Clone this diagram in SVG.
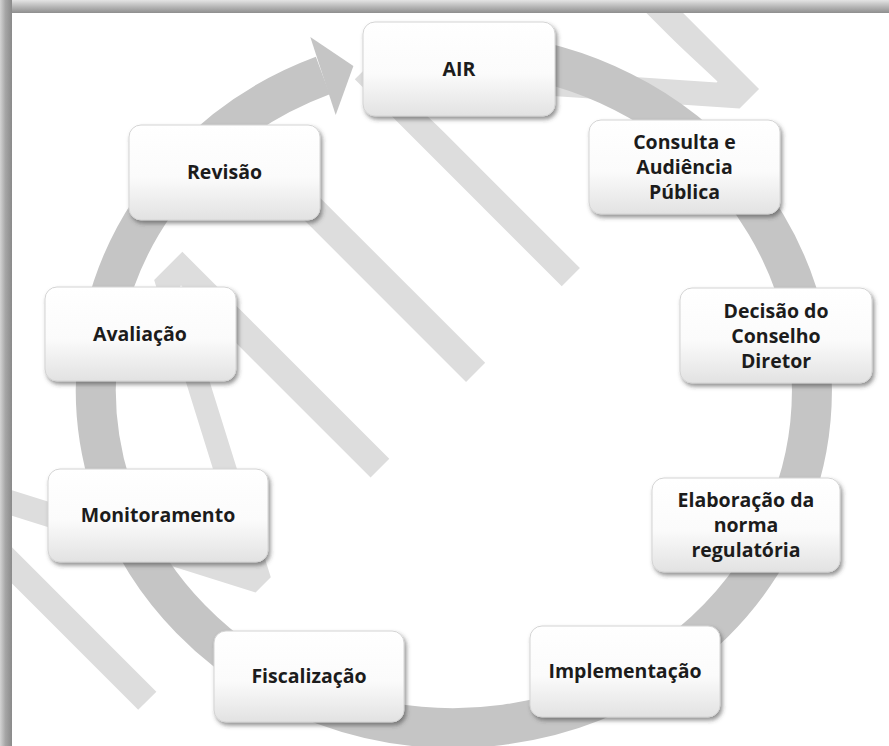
<svg xmlns="http://www.w3.org/2000/svg" width="889" height="746" viewBox="0 0 889 746">
  <defs>
    <linearGradient id="boxFill" x1="0" y1="0" x2="0" y2="1">
      <stop offset="0" stop-color="#ffffff"/>
      <stop offset="0.55" stop-color="#fbfbfb"/>
      <stop offset="1" stop-color="#e2e2e2"/>
    </linearGradient>
    <linearGradient id="topBar" x1="0" y1="0" x2="0" y2="1">
      <stop offset="0" stop-color="#e4e4e4"/>
      <stop offset="0.5" stop-color="#b8b8b8"/>
      <stop offset="1" stop-color="#8e8e8e"/>
    </linearGradient>
    <linearGradient id="leftBar" x1="0" y1="0" x2="1" y2="0">
      <stop offset="0" stop-color="#d4d4d4"/>
      <stop offset="0.45" stop-color="#a6a6a6"/>
      <stop offset="1" stop-color="#8a8a8a"/>
    </linearGradient>
    <filter id="shadow" x="-10%" y="-10%" width="125%" height="130%">
      <feDropShadow dx="2" dy="3" stdDeviation="2.2" flood-color="#3a3a3a" flood-opacity="0.55"/>
    </filter>
    <style>
      .box { fill: url(#boxFill); stroke: #d4d4d4; stroke-width: 1; filter: url(#shadow); }
      .lbl { font-family: "Open Sans", "Liberation Sans", sans-serif; font-weight: 700; font-size: 19.5px; fill: #1c1c1c; text-anchor: middle; }
      .ring { fill: none; stroke: #c5c5c5; stroke-width: 40; }
      .head { fill: #c5c5c5; }
      .wm { font-family: "Open Sans", "Liberation Sans", sans-serif; font-weight: 300; font-size: 410px; fill: #dddddd; }
    </style>
  </defs>

  <rect x="0" y="0" width="889" height="746" fill="#ffffff"/>

  <g id="watermark">
    <text class="wm" transform="translate(100 748) rotate(-45) scale(1.31 1)">MINUTA</text>
  </g>

  <g id="connectors">
    <path class="ring" d="M 485.2 53.3 A 358 338 0 1 1 322.8 75.5"/>
    <polygon class="head" points="310.3,37 353.4,66 335.7,115"/>
  </g>

  <g id="node-air">
    <rect class="box" x="363" y="22" width="192" height="94" rx="12"/>
    <text class="lbl" x="459" y="76">AIR</text>
  </g>
  <g id="node-consulta">
    <rect class="box" x="589" y="120" width="191" height="94" rx="12"/>
    <text class="lbl" x="684.5" y="149">Consulta e</text>
    <text class="lbl" x="684.5" y="174">Audiência</text>
    <text class="lbl" x="684.5" y="199">Pública</text>
  </g>
  <g id="node-decisao">
    <rect class="box" x="680" y="288" width="192" height="95" rx="12"/>
    <text class="lbl" x="776" y="318">Decisão do</text>
    <text class="lbl" x="776" y="343">Conselho</text>
    <text class="lbl" x="776" y="368">Diretor</text>
  </g>
  <g id="node-elaboracao">
    <rect class="box" x="652" y="478" width="188" height="94" rx="12"/>
    <text class="lbl" x="746" y="507">Elaboração da</text>
    <text class="lbl" x="746" y="532">norma</text>
    <text class="lbl" x="746" y="557">regulatória</text>
  </g>
  <g id="node-implementacao">
    <rect class="box" x="530" y="626" width="190" height="91" rx="12"/>
    <text class="lbl" x="625" y="678">Implementação</text>
  </g>
  <g id="node-fiscalizacao">
    <rect class="box" x="214" y="631" width="190" height="91" rx="12"/>
    <text class="lbl" x="309" y="683">Fiscalização</text>
  </g>
  <g id="node-monitoramento">
    <rect class="box" x="48" y="469" width="220" height="93" rx="12"/>
    <text class="lbl" x="158" y="522">Monitoramento</text>
  </g>
  <g id="node-avaliacao">
    <rect class="box" x="45" y="287" width="191" height="94" rx="12"/>
    <text class="lbl" x="140" y="341">Avaliação</text>
  </g>
  <g id="node-revisao">
    <rect class="box" x="129" y="125" width="191" height="95" rx="12"/>
    <text class="lbl" x="224.5" y="179">Revisão</text>
  </g>

  <g id="frame">
    <rect x="0" y="0" width="889" height="13" fill="url(#topBar)"/>
    <rect x="0" y="0" width="12" height="746" fill="url(#leftBar)"/>
  </g>
</svg>
